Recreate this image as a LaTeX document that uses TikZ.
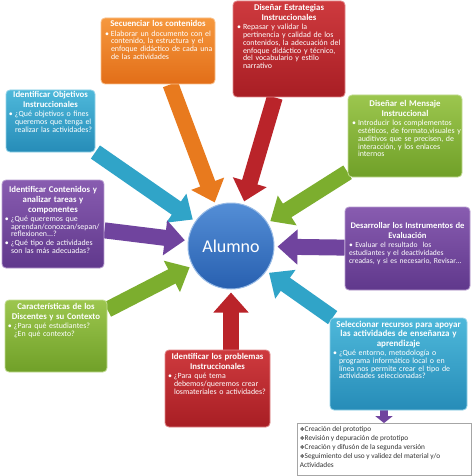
\documentclass[tikz,border=0pt]{standalone}
\usepackage{fontspec}
\setmainfont{Carlito}
\newfontfamily\dejavu{DejaVu Sans}
\usetikzlibrary{arrows.meta}
\pgfdeclarelayer{background}
\pgfsetlayers{background,main}
\definecolor{orT}{RGB}{246,152,62}\definecolor{orB}{RGB}{226,110,24}\definecolor{orA}{RGB}{232,122,30}
\definecolor{rdT}{RGB}{206,58,62}\definecolor{rdB}{RGB}{168,30,36}\definecolor{rdA}{RGB}{186,36,42}
\definecolor{cyT}{RGB}{78,184,218}\definecolor{cyB}{RGB}{38,140,184}\definecolor{cyA}{RGB}{48,164,200}
\definecolor{puT}{RGB}{136,92,176}\definecolor{puB}{RGB}{96,56,140}\definecolor{puA}{RGB}{112,68,158}
\definecolor{grT}{RGB}{156,198,78}\definecolor{grB}{RGB}{112,160,40}\definecolor{grA}{RGB}{124,174,46}
\definecolor{blT}{RGB}{84,142,214}\definecolor{blB}{RGB}{40,96,176}
\newcommand\ttl[2][8.8]{{\centering\fontsize{#1}{9.6}\selectfont\bfseries #2\par}\vspace{1.5pt}}
\newcommand\bul[1]{\noindent\makebox[6pt][l]{•}\begin{tabular}[t]{@{}l@{}}#1\end{tabular}\par}
\newcommand\dia{{\dejavu\fontsize{5.5}{9}\selectfont ❖}}
\tikzset{
  box/.style={rounded corners=4pt, line width=0.8pt, inner sep=0pt},
  txt/.style={anchor=north, inner sep=0pt, text=white, font=\fontsize{7.9}{7.7}\selectfont},
  arr/.style={line width=16pt, -{Triangle[width=34pt,length=20pt]}, shorten >=3pt},
  smallarr/.style={line width=8pt, -{Triangle[width=17pt,length=7pt]}},
}
\begin{document}
\begin{tikzpicture}[x=1pt,y=-1pt]
\useasboundingbox (0,0) rectangle (474,476);
% boxes
\node[box, top color=orT, bottom color=orB, draw=orT!60!white, minimum width=114pt, minimum height=66pt] (seq) at (158,51) {};
\node[box, top color=rdT, bottom color=rdB, draw=rdT!60!white, minimum width=112pt, minimum height=96pt] (est) at (289,49) {};
\node[box, top color=cyT, bottom color=cyB, draw=cyT!60!white, minimum width=89pt, minimum height=62pt] (obj) at (50.5,121) {};
\node[box, top color=puT, bottom color=puB, draw=puT!60!white, minimum width=102pt, minimum height=88pt] (cont) at (53,224) {};
\node[box, top color=grT, bottom color=grB, draw=grT!60!white, minimum width=102pt, minimum height=72pt] (car) at (56,336) {};
\node[box, top color=rdT, bottom color=rdB, draw=rdT!60!white, minimum width=105pt, minimum height=77pt] (prob) at (217.5,388.5) {};
\node[box, top color=grT, bottom color=grB, draw=grT!60!white, minimum width=114pt, minimum height=82pt] (msg) at (405,136) {};
\node[box, top color=puT, bottom color=puB, draw=puT!60!white, minimum width=125pt, minimum height=83pt] (eval) at (407.5,248.5) {};
\node[box, top color=cyT, bottom color=cyB, draw=cyT!60!white, minimum width=137pt, minimum height=92pt] (rec) at (398.5,364) {};
\node[draw=gray!70, line width=0.8pt, fill=white, inner sep=0pt, minimum width=174pt, minimum height=52pt] (list) at (384,449.5) {};
\node[circle, inner sep=0pt, minimum size=86pt, top color=blT, bottom color=blB, draw=blT!60!white, line width=1pt, text=white, font=\fontsize{18}{20}\selectfont] (alumno) at (231,246) {Alumno};
% texts
\node[txt, text width=106pt, yshift=-3pt] at (seq.north) {\ttl{Secuenciar los contenidos}\bul{Elaborar un documento con el\\contenido, la estructura y el\\enfoque didáctico de cada una\\de las actividades}};
\node[txt, text width=104pt, yshift=-4pt] at (est.north) {\ttl{Diseñar Estrategias\\Instruccionales}\bul{Repasar y validar la\\pertinencia y calidad de los\\contenidos, la adecuación del\\enfoque didáctico y técnico,\\del vocabulario y estilo\\narrativo}};
\node[txt, text width=83pt, yshift=-2pt] at (obj.north) {\ttl{Identificar Objetivos\\Instruccionales}\bul{¿Qué objetivos o fines\\queremos que tenga el\\realizar las actividades?}};
\node[txt, text width=96pt, yshift=-7pt] at (cont.north) {\ttl{Identificar Contenidos y\\analizar tareas y\\componentes}\bul{¿Qué queremos que\\aprendan/conozcan/sepan/\\reflexionen...?}\bul{¿Qué tipo de actividades\\son las más adecuadas?}};
\node[txt, text width=96pt, yshift=-4pt] at (car.north) {\ttl{Características de los\\Discentes y su Contexto}\bul{¿Para qué estudiantes?\\¿En qué contexto?}};
\node[txt, text width=99pt, yshift=-4pt] at (prob.north) {\ttl{Identificar los problemas\\Instruccionales}\bul{¿Para qué tema\\debemos/queremos crear\\losmateriales o actividades?}};
\node[txt, text width=106pt, yshift=-6pt] at (msg.north) {\ttl{Diseñar el Mensaje\\Instruccional}\bul{Introducir los complementos\\estéticos, de formato,visuales y\\auditivos que se precisen, de\\interacción, y los enlaces\\internos}};
\node[txt, text width=117pt, yshift=-16pt, font=\fontsize{7.6}{7.7}\selectfont] at (eval.north) {\ttl[8.6]{Desarrollar los Instrumentos de\\Evaluación}\noindent• Evaluar el resultado\ \ los\\estudiantes y el deactividades\\creadas, y si es necesario, Revisar…};
\node[txt, text width=131pt, yshift=-3pt] at (rec.north) {\ttl[9]{Seleccionar recursos para apoyar\\las actividades de enseñanza y\\aprendizaje}\bul{¿Qué entorno, metodología o\\programa informático local o en\\línea nos permite crear el tipo de\\actividades seleccionadas?}};
\node[anchor=north west, inner sep=0pt, align=left, text=black!80, font=\fontsize{7.3}{9}\selectfont] at ([xshift=3pt,yshift=-3pt]list.north west) {\dia Creación del prototipo\\\dia Revisión y depuración de prototipo\\\dia Creación y difusón de la segunda versión\\\dia Seguimiento del uso y validez del material y/o\\Actividades};
% arrows
\begin{pgfonlayer}{background}
\fill[white] (0,0) rectangle (474,476);
\draw[arr, orA] (seq) -- (alumno);
\draw[arr, rdA] (est) -- (alumno);
\draw[arr, cyA] (obj) -- (alumno);
\draw[arr, puA] (cont) -- (alumno);
\draw[arr, grA] (car) -- (alumno);
\draw[arr, rdA] (prob.north -| alumno) -- (alumno);
\draw[arr, grA] (msg) -- (alumno);
\draw[arr, puA] (eval) -- (alumno);
\draw[arr, cyA] (rec) -- (alumno);
\draw[smallarr, puA] (rec.south -| list.north) -- (list.north);
\end{pgfonlayer}
\end{tikzpicture}
\end{document}
